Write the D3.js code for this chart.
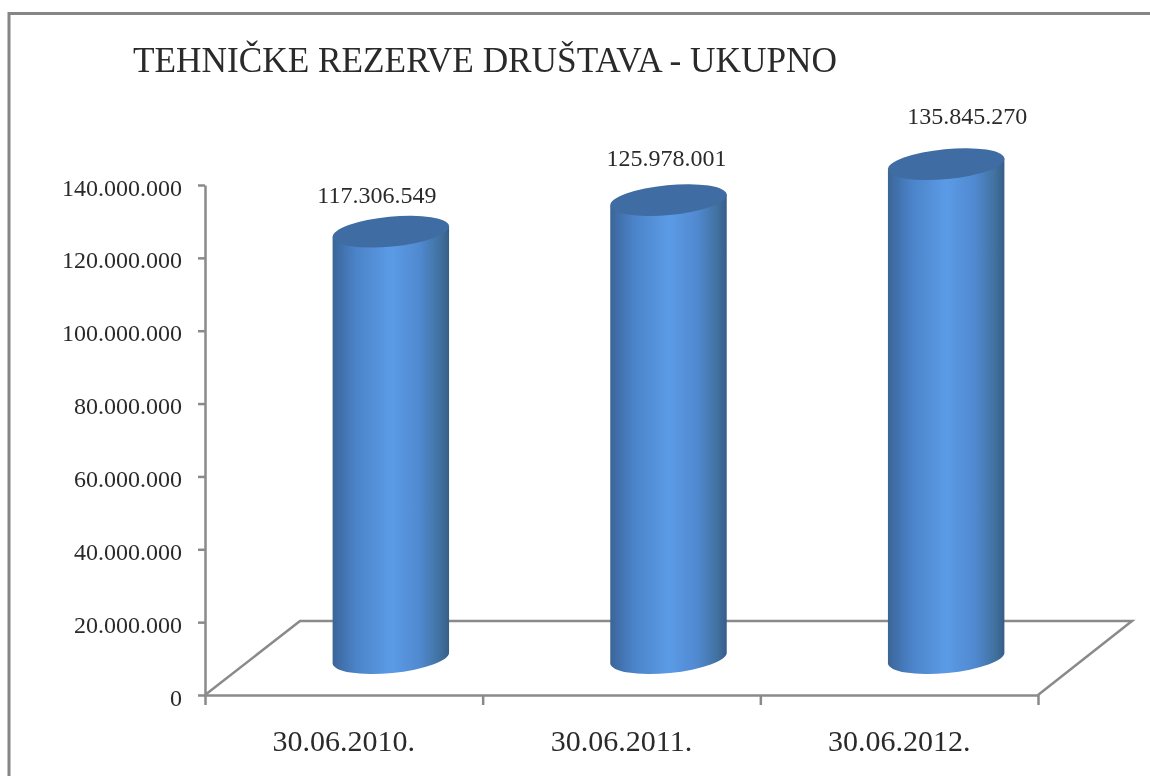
<!DOCTYPE html>
<html lang="hr">
<head>
<meta charset="utf-8">
<title>Tehničke rezerve društava - ukupno</title>
<script src="https://cdn.jsdelivr.net/npm/d3@7"></script>
<style>
  html, body { margin: 0; padding: 0; background: #fff; overflow: hidden; }
  svg { display: block; filter: blur(0.35px); }
  text { font-family: "Liberation Serif", serif; fill: #2a2a2a; }
</style>
</head>
<body>
<script>
// data
var title = "TEHNIČKE REZERVE DRUŠTAVA - UKUPNO"
var categories = ["30.06.2010.", "30.06.2011.", "30.06.2012."]
var values = [117306549, 125978001, 135845270]
var yTicks = [0, 20000000, 40000000, 60000000, 80000000, 100000000, 120000000, 140000000]

var w = 1150, h = 776
var left = 205, right = 1038, top_ = 185, bottom = 695
var depthX = 47, depthY = 36     // pseudo 3d floor offset (half of the floor depth)
var rx = 58.5, ry = 15, tilt = -5.5
var gray = "#8a8a8a"
var textColor = "#2a2a2a"

// the value labels were placed by hand in the original
var labelDx = [-14, -2, 21]
var labelDy = [-37, -42, -49]

var fmt = function(d) { return d3.format(",")(d).replace(/,/g, ".") }

var svg = d3.select("body").append("svg").attr("width", w).attr("height", h)

var x = d3.scaleBand().domain(categories).range([left, right])
var xEdges = d3.scaleLinear().domain([0, categories.length]).range([left, right])
var y = d3.scaleLinear().domain([0, 140000000]).range([bottom, top_])

// gradient for the cylinder side
var grad = svg.append("defs").append("linearGradient").attr("id", "side")
var stops = [[0, "#3b6594"], [0.06, "#3f6ea9"], [0.2, "#4b83c8"], [0.5, "#5b9be6"], [0.75, "#5089d0"], [0.92, "#41719f"], [1, "#375d89"]]
grad.selectAll("stop").data(stops).enter().append("stop")
  .attr("offset", function(d) { return d[0] })
  .attr("stop-color", function(d) { return d[1] })

// outer frame, only the top and left sides are in the picture
svg.append("path")
  .attr("d", "M9," + (h + 5) + "V13.5H" + (w + 5))
  .attr("fill", "none").attr("stroke", "#868686").attr("stroke-width", 3)

svg.append("text").attr("x", 133).attr("y", 72)
  .attr("font-size", 35.25).text(title)

// floor
svg.append("path")
  .attr("d", d3.line()([[left, bottom], [left + 2 * depthX + 1, bottom - 74], [right + 2 * depthX, bottom - 74], [right, bottom]]))
  .attr("fill", "none").attr("stroke", gray).attr("stroke-width", 2.5)

// axes
var yAxis = svg.append("g").attr("transform", "translate(" + left + ",0)")
  .call(d3.axisLeft(y).tickValues(yTicks).tickFormat(fmt).tickSize(7).tickSizeOuter(0).tickPadding(16))
var xAxisTicks = svg.append("g").attr("transform", "translate(0," + bottom + ")")
  .call(d3.axisBottom(xEdges).tickValues(d3.range(categories.length + 1)).tickFormat("").tickSize(10).tickSizeOuter(0))
var xAxisLabels = svg.append("g").attr("transform", "translate(0," + bottom + ")")
  .call(d3.axisBottom(x).tickSize(0).tickPadding(35))
xAxisLabels.select(".domain").remove()

svg.selectAll(".domain, .tick line").attr("stroke", gray).attr("stroke-width", 2.5)
yAxis.selectAll("text").attr("font-size", 24).attr("dy", "0.42em").attr("fill", textColor)
xAxisLabels.selectAll("text").attr("font-size", 30).attr("fill", textColor)

// cylinders
var rad = tilt * Math.PI / 180
var ex = rx * Math.cos(rad), ey = rx * Math.sin(rad)

var bars = svg.selectAll(".bar").data(values).enter().append("g").attr("class", "bar")

bars.append("path")
  .attr("fill", "url(#side)")
  .attr("d", function(d, i) {
    var cx = x(categories[i]) + x.bandwidth() / 2 + depthX
    var t = y(d) - depthY, b = y(0) - depthY - 1
    return "M" + (cx - ex) + "," + (t - ey) +
      "L" + (cx - ex) + "," + (b - ey) +
      "A" + rx + "," + ry + " " + tilt + " 0 0 " + (cx + ex) + "," + (b + ey) +
      "L" + (cx + ex) + "," + (t + ey) + "Z"
  })

bars.append("ellipse")
  .attr("fill", "#3f6ca2")
  .attr("rx", rx).attr("ry", ry)
  .attr("transform", function(d, i) {
    var cx = x(categories[i]) + x.bandwidth() / 2 + depthX
    return "translate(" + cx + "," + (y(d) - depthY) + ") rotate(" + tilt + ")"
  })

bars.append("text")
  .attr("text-anchor", "middle").attr("font-size", 24).attr("dy", "0.35em")
  .attr("x", function(d, i) { return x(categories[i]) + x.bandwidth() / 2 + depthX + labelDx[i] })
  .attr("y", function(d, i) { return y(d) - depthY + labelDy[i] })
  .text(fmt)
</script>
</body>
</html>
